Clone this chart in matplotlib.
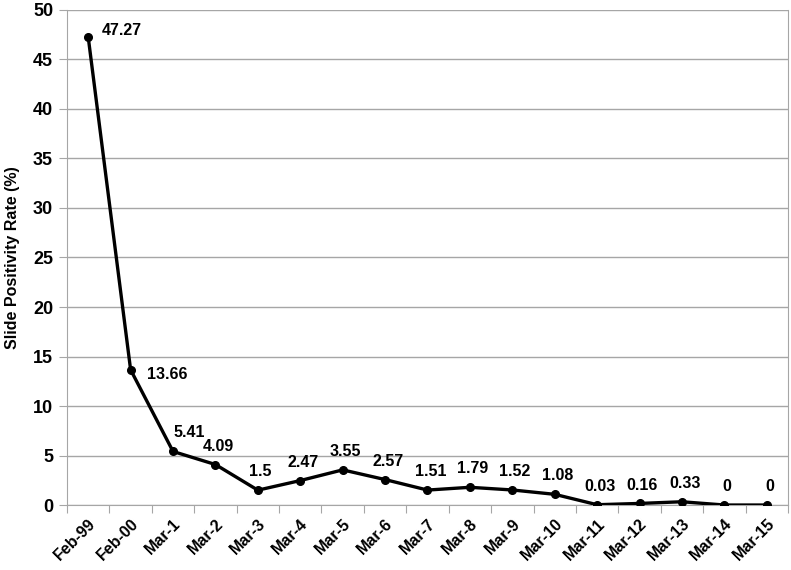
import matplotlib
matplotlib.use("Agg")
import matplotlib.pyplot as plt

categories = ["Feb-99", "Feb-00", "Mar-1", "Mar-2", "Mar-3", "Mar-4", "Mar-5", "Mar-6",
              "Mar-7", "Mar-8", "Mar-9", "Mar-10", "Mar-11", "Mar-12", "Mar-13", "Mar-14", "Mar-15"]
values = [47.27, 13.66, 5.41, 4.09, 1.5, 2.47, 3.55, 2.57, 1.51, 1.79, 1.52, 1.08, 0.03, 0.16, 0.33, 0, 0]
labels = ["47.27", "13.66", "5.41", "4.09", "1.5", "2.47", "3.55", "2.57", "1.51", "1.79",
          "1.52", "1.08", "0.03", "0.16", "0.33", "0", "0"]
yticks = [0, 5, 10, 15, 20, 25, 30, 35, 40, 45, 50]

plt.rcParams['font.family'] = ['Liberation Sans', 'DejaVu Sans']
fig = plt.figure(figsize=(7.91, 5.70), dpi=100)
ax = fig.add_axes([0.0847, 0.114, 0.9115, 0.8685])

x = list(range(len(categories)))
ax.plot(x, values, color='black', lw=2.4, marker='o', ms=5.5, zorder=3)

lab_fs = 11.5
for i, (v, t) in enumerate(zip(values, labels)):
    if i == 0:
        ax.annotate(t, (i, v), xytext=(9.5, 5), textcoords='offset points',
                    ha='left', va='center', fontsize=lab_fs, fontweight='bold')
    elif i == 1:
        ax.annotate(t, (i, v), xytext=(12, -3.6), textcoords='offset points',
                    ha='left', va='center', fontsize=lab_fs, fontweight='bold')
    elif i == 2:
        ax.annotate(t, (i, v), xytext=(0, 10.5), textcoords='offset points',
                    ha='left', va='baseline', fontsize=lab_fs, fontweight='bold')
    else:
        ax.annotate(t, (i, v), xytext=(2, 10), textcoords='offset points',
                    ha='center', va='baseline', fontsize=lab_fs, fontweight='bold')

ax.set_xlim(-0.5, len(categories) - 0.5)
ax.set_ylim(0, 50)
ax.set_yticks(yticks)
ax.set_yticklabels([str(t) for t in yticks], fontsize=13, fontweight='bold')
ax.yaxis.grid(True, color='#a6a6a6', lw=1)
ax.set_axisbelow(True)
ax.tick_params(axis='y', length=6, color='#a6a6a6', pad=4)

ax.set_xticks([i - 0.5 for i in range(len(categories) + 1)], minor=False)
ax.set_xticklabels([])
ax.set_xticks(x, minor=True)
ax.set_xticklabels(categories, minor=True, rotation=45, ha='right', rotation_mode='anchor',
                   fontsize=11.5, fontweight='bold')
ax.tick_params(axis='x', which='major', length=6, color='#a6a6a6')
ax.tick_params(axis='x', which='minor', length=0, pad=8)

for s in ['top']:
    ax.spines[s].set_visible(False)
for s in ['left', 'bottom', 'right']:
    ax.spines[s].set_color('#a6a6a6')

ax.set_ylabel("Slide Positivity Rate (%)", fontsize=11.5, fontweight='bold', labelpad=9)

fig.savefig("out.png", dpi=100)
